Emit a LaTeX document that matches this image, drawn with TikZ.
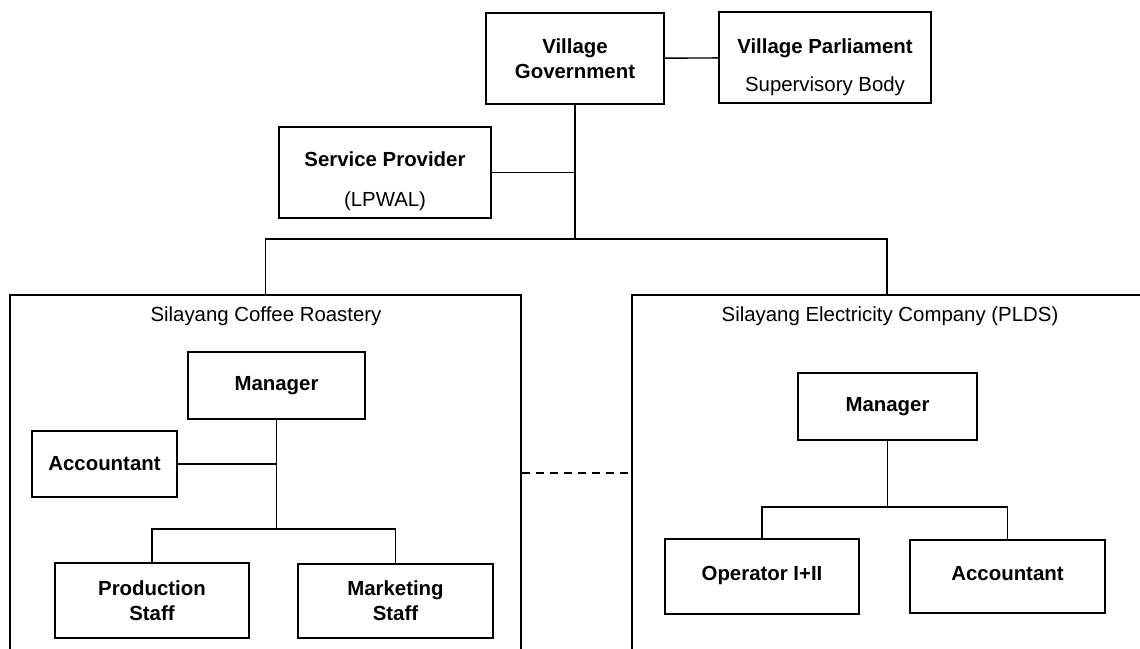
\documentclass[tikz,border=0pt]{standalone}
\usepackage{fontspec}
\setmainfont{Liberation Sans}

\begin{document}
\begin{tikzpicture}
     [
     x=0.5pt, y=-0.5pt,
     stelle/.style = {draw, line width=0.7pt, inner sep=0pt, align=center, font=\bfseries},
     zweizeilig/.style = {stelle, minimum width=106pt, minimum height=45.5pt},
     bereich/.style = {draw, line width=0.7pt, minimum height=178pt},
     titel/.style = {inner sep=0pt},
     linie/.style = {line width=0.7pt}
     ]
     \fontsize{10.2}{12.5}\selectfont

     \useasboundingbox (0,0) rectangle (1140,648);

     % the two enterprises
     \draw (265.5,473) node[bereich,minimum width=255.5pt] (coffee) {}
           (887,473) node[bereich,minimum width=255pt] (plds) {}
           (266,316) node[titel] (coffeetitel) {Silayang Coffee Roastery}
           (890,316) node[titel] (pldstitel) {Silayang Electricity Company (PLDS)}
     ;

     % village level
     \draw (575,58.5) node[stelle,minimum width=89pt,minimum height=45.5pt] (vg) {Village\\Government}
           (825,57.5) node[zweizeilig,label={[align=center,yshift=-5pt]center:{\bfseries Village Parliament}\\[6.5pt]Supervisory Body}] (vp) {}
           (385,172.5) node[zweizeilig,label={[align=center,yshift=-4.5pt]center:{\bfseries Service Provider}\\[7.5pt](LPWAL)}] (sp) {}
     ;

     % coffee roastery
     \draw (276.5,385.5) node[stelle,minimum width=88.5pt,minimum height=33.5pt] (mgr1) {Manager}
           (104.5,464) node[stelle,minimum width=72.5pt,minimum height=33pt] (acc1) {Accountant}
           (152,600.5) node[stelle,minimum width=97pt,minimum height=37.5pt] (prod) {Production\\Staff}
           (395.5,601) node[stelle,minimum width=97.5pt,minimum height=37pt] (mkt) {Marketing\\Staff}
     ;

     % electricity company
     \draw (887.5,406.5) node[stelle,minimum width=89.5pt,minimum height=33.5pt] (mgr2) {Manager}
           (762,576.5) node[stelle,minimum width=97pt,minimum height=37.5pt,text depth=3pt] (op) {Operator I+II}
           (1007.5,576.5) node[stelle,minimum width=97.5pt,minimum height=36.5pt,text depth=3pt] (acc2) {Accountant}
     ;

     \coordinate (j0) at (575,239);
     \coordinate (j1) at (276.5,529);
     \coordinate (j2) at (887.5,507);

     \draw[linie] (vg) -- (vp);
     \draw[linie] (vg.south) -- (j0);
     \draw[linie] (sp.east) -- (sp.east -| vg.south);
     \draw[linie] (coffee.north) |- (j0) -| (plds.north);

     \draw[linie] (mgr1) -- (j1);
     \draw[linie] (acc1.east) -- (acc1.east -| mgr1.south);
     \draw[linie] (prod.north) |- (j1) -| (mkt.north);

     \draw[linie] (mgr2) -- (j2);
     \draw[linie] (op.north) |- (j2) -| (acc2.north);

     \draw[linie,dash pattern=on 4pt off 3pt] (coffee.east) -- (plds.west);
  \end{tikzpicture}
\end{document}
